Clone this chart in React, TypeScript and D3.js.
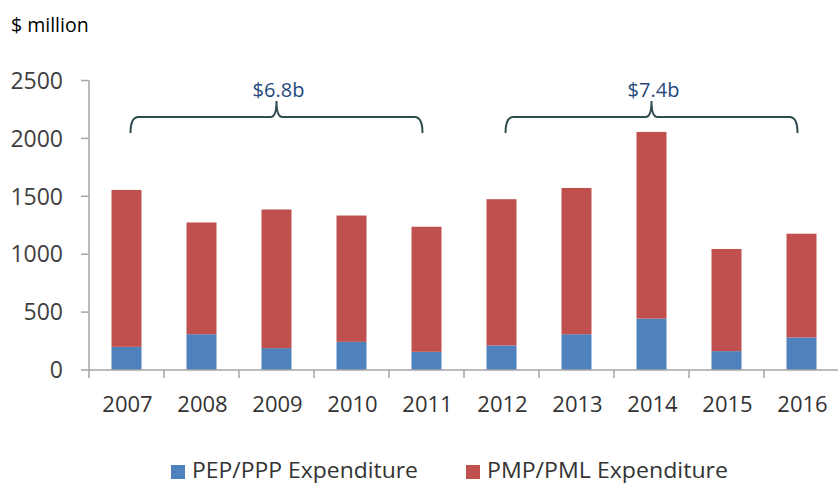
import React, { useEffect, useRef } from 'react';
import * as d3 from 'd3';

// values, $ million
const years = ['2007', '2008', '2009', '2010', '2011', '2012', '2013', '2014', '2015', '2016'];
const pepPpp = [200, 309, 189, 243, 157, 212, 309, 444, 163, 281];
const pmpPml = [1355, 965, 1197, 1091, 1080, 1263, 1263, 1612, 882, 896];
const yTicks = [0, 500, 1000, 1500, 2000, 2500];
const seriesNames = ['PEP/PPP Expenditure', 'PMP/PML Expenditure'];
const seriesColors = ['#4F81BD', '#C0504D'];
const braceFrom = ['2007', '2012'];
const braceTo = ['2011', '2016'];
const braceLabels = ['$6.8b', '$7.4b'];

const WIDTH = 838;
const HEIGHT = 485;
const FONT = "'Open Sans', 'Noto Sans', sans-serif";

function App() {
  const svgRef = useRef<SVGSVGElement>(null);

  useEffect(() => {
    const svg = d3.select(svgRef.current);
    svg.selectAll('*').remove();

    const x = d3.scaleBand().domain(years).range([89, 839]).paddingInner(0.6).paddingOuter(0.3);
    const y = d3.scaleLinear().domain([0, 2500]).range([370, 80.5]);

    const rows = years.map((yr, i) => ({ year: yr, pep: pepPpp[i], pmp: pmpPml[i] }));
    const stack = d3.stack<any>().keys(['pep', 'pmp'])(rows);

    // bars
    svg
      .append('g')
      .selectAll('g')
      .data(stack)
      .enter()
      .append('g')
      .attr('fill', (d, i) => seriesColors[i])
      .selectAll('rect')
      .data((d) => d)
      .enter()
      .append('rect')
      .attr('x', (d: any) => x(d.data.year)!)
      .attr('y', (d) => y(d[1]))
      .attr('width', x.bandwidth())
      .attr('height', (d) => y(d[0]) - y(d[1]));

    // y axis
    const axisColor = '#A6A6A6';
    const yg = svg.append('g');
    yg.append('line')
      .attr('x1', 89).attr('x2', 89)
      .attr('y1', y(2500)).attr('y2', y(0))
      .attr('stroke', axisColor).attr('stroke-width', 1.5);
    yTicks.forEach((t) => {
      yg.append('line')
        .attr('x1', 81).attr('x2', 89)
        .attr('y1', y(t)).attr('y2', y(t))
        .attr('stroke', axisColor).attr('stroke-width', 1.5);
      yg.append('text')
        .attr('x', 63).attr('y', y(t)).attr('dy', '0.36em')
        .attr('text-anchor', 'end')
        .attr('font-family', FONT).attr('font-size', 23)
        .attr('fill', '#404040')
        .text(t);
    });

    // x axis
    const xg = svg.append('g');
    xg.append('line')
      .attr('x1', 89).attr('x2', WIDTH)
      .attr('y1', y(0)).attr('y2', y(0))
      .attr('stroke', axisColor).attr('stroke-width', 1.5);
    years.forEach((yr) => {
      const left = x(yr)! - x.step() * 0.3;
      xg.append('line')
        .attr('x1', left).attr('x2', left)
        .attr('y1', y(0)).attr('y2', y(0) + 8)
        .attr('stroke', axisColor).attr('stroke-width', 1.5);
      xg.append('text')
        .attr('x', x(yr)! + x.bandwidth() / 2 + 1)
        .attr('y', 412)
        .attr('text-anchor', 'middle')
        .attr('font-family', FONT).attr('font-size', 22)
        .attr('fill', '#333')
        .text(yr);
    });

    // braces with period totals
    braceLabels.forEach((label, i) => {
      const L = x(braceFrom[i])! + x.bandwidth() / 2 + 4;
      const R = x(braceTo[i])! + x.bandwidth() / 2 - 4;
      const M = (L + R) / 2;
      const top = 117;
      const bot = 133;
      const tip = 101;
      const path =
        `M${L},${bot} Q${L},${top} ${L + 8},${top} L${M - 6},${top} Q${M},${top} ${M},${tip} ` +
        `Q${M},${top} ${M + 6},${top} L${R - 8},${top} Q${R},${top} ${R},${bot}`;
      svg.append('path')
        .attr('d', path)
        .attr('fill', 'none')
        .attr('stroke', '#2F4C4F')
        .attr('stroke-width', 2);
      svg.append('text')
        .attr('x', M + 2).attr('y', 97)
        .attr('text-anchor', 'middle')
        .attr('font-family', FONT).attr('font-size', 20)
        .attr('fill', '#1F497D')
        .text(label);
    });

    // legend
    const legendX = [171, 466];
    seriesNames.forEach((name, i) => {
      svg.append('rect')
        .attr('x', legendX[i]).attr('y', 465)
        .attr('width', 14).attr('height', 14)
        .attr('fill', seriesColors[i]);
      svg.append('text')
        .attr('x', legendX[i] + 21).attr('y', 478)
        .attr('font-family', FONT).attr('font-size', 22)
        .attr('textLength', i === 0 ? 226 : 241)
        .attr('lengthAdjust', 'spacingAndGlyphs')
        .attr('fill', '#333')
        .text(name);
    });

    svg.append('text')
      .attr('x', 11).attr('y', 32)
      .attr('font-family', FONT).attr('font-size', 19.5)
      .attr('fill', '#000')
      .text('$ million');
  }, []);

  return (
    <div style={{ position: 'absolute', left: 0, top: 0 }}>
      <svg ref={svgRef} width={WIDTH} height={HEIGHT} style={{ display: 'block', background: '#fff' }}></svg>
    </div>
  );
}

export default App;
